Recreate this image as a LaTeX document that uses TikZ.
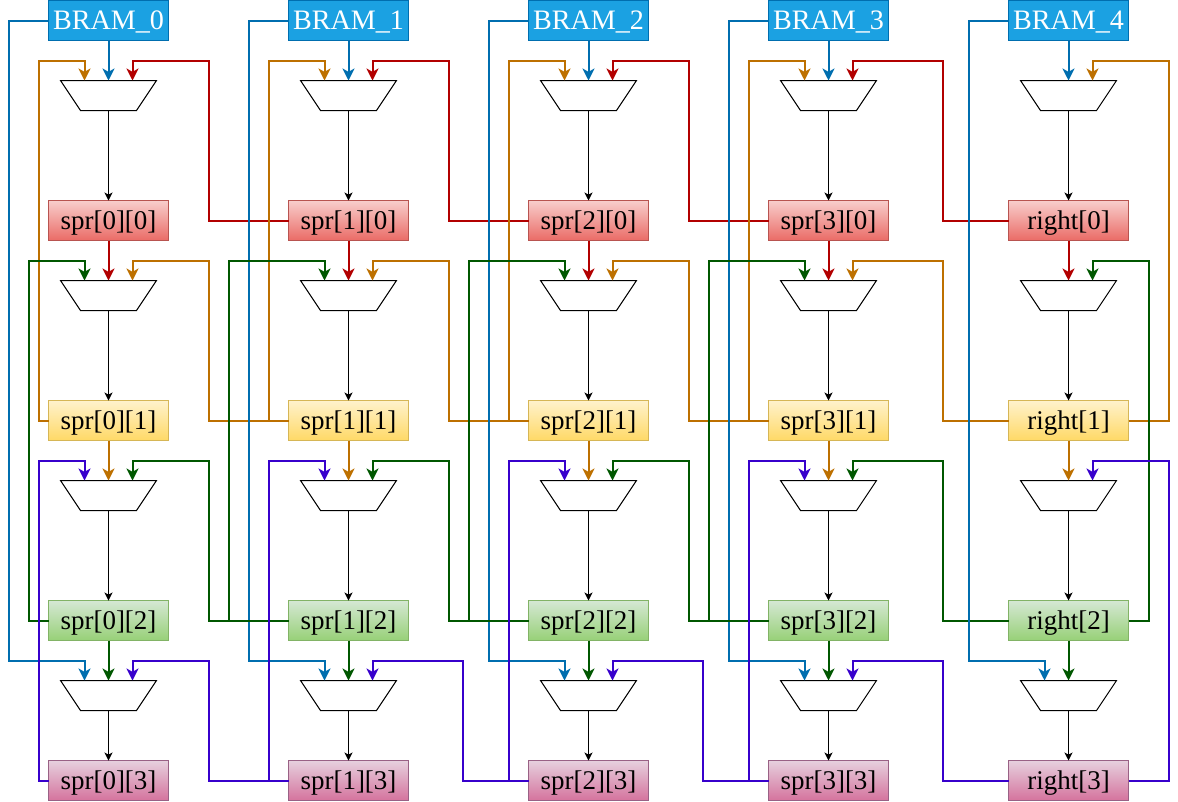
\documentclass[tikz,border=0pt]{standalone}
\usepackage{fontspec}
\setmainfont{Liberation Serif}
\usetikzlibrary{arrows.meta,calc}
\definecolor{cblue}{HTML}{006EAF}
\definecolor{cred}{HTML}{B20000}
\definecolor{corange}{HTML}{BD7000}
\definecolor{cgreen}{HTML}{005700}
\definecolor{cpurple}{HTML}{3700CC}
\definecolor{bramfill}{HTML}{1BA1E2}
\definecolor{redline}{HTML}{B85450}
\definecolor{redtop}{HTML}{F8CECC}
\definecolor{redbot}{HTML}{EA6B66}
\definecolor{yelline}{HTML}{D6B656}
\definecolor{yeltop}{HTML}{FFF2CC}
\definecolor{yelbot}{HTML}{FFD966}
\definecolor{grnline}{HTML}{82B366}
\definecolor{grntop}{HTML}{D5E8D4}
\definecolor{grnbot}{HTML}{97D077}
\definecolor{pnkline}{HTML}{996185}
\definecolor{pnktop}{HTML}{E6D0DE}
\definecolor{pnkbot}{HTML}{D5739D}
\tikzset{
  boxbase/.style={draw,rectangle,minimum width=90pt,minimum height=30pt,inner sep=0pt,outer sep=0pt,line width=.75pt,font=\fontsize{20.25}{24}\selectfont,text height=14.2pt,text depth=0pt,anchor=center},
  brambox/.style={boxbase,draw=cblue,fill=bramfill,text=white,font=\fontsize{21.1}{25}\selectfont},
  redbox/.style={boxbase,draw=redline,top color=redtop,bottom color=redbot},
  yellowbox/.style={boxbase,draw=yelline,top color=yeltop,bottom color=yelbot},
  greenbox/.style={boxbase,draw=grnline,top color=grntop,bottom color=grnbot},
  pinkbox/.style={boxbase,draw=pnkline,top color=pnktop,bottom color=pnkbot},
  muxbox/.style={rectangle,minimum width=72pt,minimum height=22.5pt,inner sep=0pt,outer sep=0pt},
  muxline/.style={draw=black,line width=.75pt,line join=miter},
  wire/.style={line width=1.5pt,-{Stealth[length=9pt,width=9pt,inset=2.5pt]}},
  outwire/.style={line width=.75pt,black,-{Stealth[length=6pt,width=6pt,inset=1.6pt]}}
}
\newcommand\wirerun[5]{\draw[wire,#1] (#2) -- ++(#3,0) |- ($(#4.north)+(#5,-20)$) -- ($(#4.north)+(#5,0)$);}
\newcommand\muxat[2]{\node[muxbox] (#1) at (#2) {};
  \draw[muxline] (#1.north west) -- (#1.north east) -- ($(#1.south east)+(-20,0)$) -- ($(#1.south west)+(20,0)$) -- cycle;}
\begin{document}
\begin{tikzpicture}[x=.75pt,y=-.75pt]
\useasboundingbox (0,0) rectangle (1178,801);
\foreach \c/\x in {0/108.5,1/348.5,2/588.5,3/828.5,4/1068.5}{
  \node[brambox] (b\c) at (\x,20.5) {BRAM\_\c};
  \muxat{m\c0}{\x,95.5}
  \muxat{m\c1}{\x,295.5}
  \muxat{m\c2}{\x,495.5}
  \muxat{m\c3}{\x,695.5}
}
\foreach \c/\x/\lab in {0/108.5/spr[0],1/348.5/spr[1],2/588.5/spr[2],3/828.5/spr[3],4/1068.5/right}{
  \node[redbox] (s\c0) at (\x,220.5) {\lab{}[0]};
  \node[yellowbox] (s\c1) at (\x,420.5) {\lab{}[1]};
  \node[greenbox] (s\c2) at (\x,620.5) {\lab{}[2]};
  \node[pinkbox] (s\c3) at (\x,780.5) {\lab{}[3]};
}
\foreach \c in {0,1,2,3,4}{
  \draw[outwire] (m\c0.south) -- (s\c0.north);
  \draw[outwire] (m\c1.south) -- (s\c1.north);
  \draw[outwire] (m\c2.south) -- (s\c2.north);
  \draw[outwire] (m\c3.south) -- (s\c3.north);
  \draw[wire,cblue] (b\c.south) -- (m\c0.north);
  \draw[wire,cred] (s\c0.south) -- (m\c1.north);
  \draw[wire,corange] (s\c1.south) -- (m\c2.north);
  \draw[wire,cgreen] (s\c2.south) -- (m\c3.north);
}
% column 0
\wirerun{cblue}{b0.west}{-40}{m03}{-24}
\wirerun{corange}{s01.west}{-10}{m00}{-24}
\wirerun{cred}{s10.west}{-80}{m00}{24}
\wirerun{cgreen}{s02.west}{-20}{m01}{-24}
\wirerun{corange}{s11.west}{-80}{m01}{24}
\wirerun{cpurple}{s03.west}{-10}{m02}{-24}
\wirerun{cgreen}{s12.west}{-80}{m02}{24}
\wirerun{cpurple}{s13.west}{-80}{m03}{24}
% column 1
\wirerun{cblue}{b1.west}{-40}{m13}{-24}
\wirerun{corange}{s11.west}{-20}{m10}{-24}
\wirerun{cred}{s20.west}{-80}{m10}{24}
\wirerun{cgreen}{s12.west}{-60}{m11}{-24}
\wirerun{corange}{s21.west}{-80}{m11}{24}
\wirerun{cpurple}{s13.west}{-20}{m12}{-24}
\wirerun{cgreen}{s22.west}{-80}{m12}{24}
\wirerun{cpurple}{s23.west}{-66}{m13}{24}
% column 2
\wirerun{cblue}{b2.west}{-40}{m23}{-24}
\wirerun{corange}{s21.west}{-20}{m20}{-24}
\wirerun{cred}{s30.west}{-80}{m20}{24}
\wirerun{cgreen}{s22.west}{-60}{m21}{-24}
\wirerun{corange}{s31.west}{-80}{m21}{24}
\wirerun{cpurple}{s23.west}{-20}{m22}{-24}
\wirerun{cgreen}{s32.west}{-80}{m22}{24}
\wirerun{cpurple}{s33.west}{-66}{m23}{24}
% column 3
\wirerun{cblue}{b3.west}{-40}{m33}{-24}
\wirerun{corange}{s31.west}{-20}{m30}{-24}
\wirerun{cred}{s40.west}{-66}{m30}{24}
\wirerun{cgreen}{s32.west}{-60}{m31}{-24}
\wirerun{corange}{s41.west}{-66}{m31}{24}
\wirerun{cpurple}{s33.west}{-20}{m32}{-24}
\wirerun{cgreen}{s42.west}{-66}{m32}{24}
\wirerun{cpurple}{s43.west}{-66}{m33}{24}
% column 4
\wirerun{cblue}{b4.west}{-40}{m43}{-24}
\wirerun{corange}{s41.east}{40}{m40}{24}
\wirerun{cgreen}{s42.east}{20}{m41}{24}
\wirerun{cpurple}{s43.east}{40}{m42}{24}
\end{tikzpicture}
\end{document}
